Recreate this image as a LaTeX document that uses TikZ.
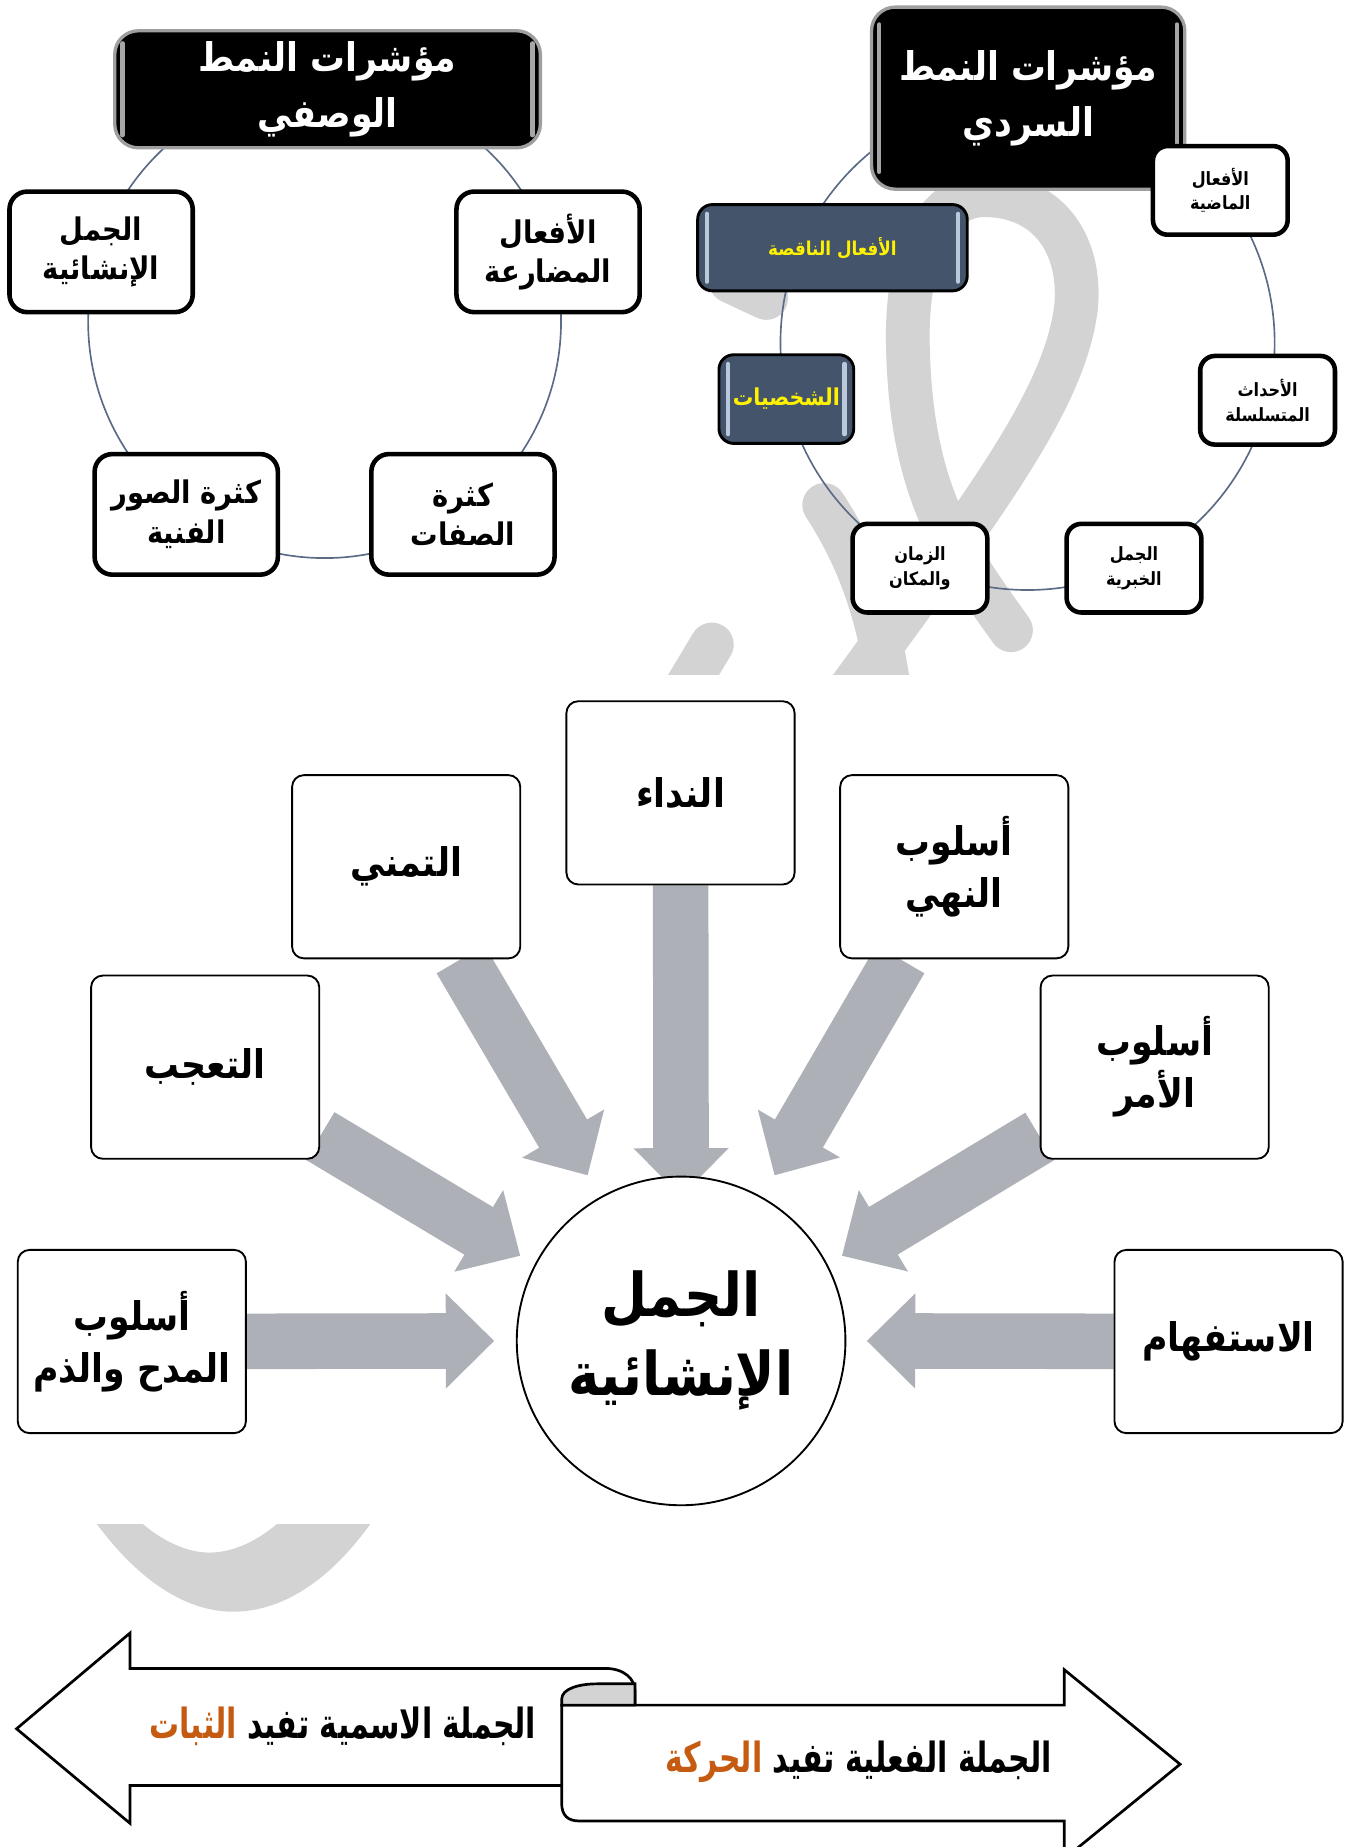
\documentclass[tikz,border=0pt]{standalone}
\usepackage{fontspec}
\usetikzlibrary{arrows.meta,backgrounds}
\TeXXeTstate=1
\newfontfamily\arabicfont[Script=Arabic,FakeStretch=0.88]{DejaVu Sans}
\newfontfamily\arabicnarrow[Script=Arabic,FakeStretch=0.72]{DejaVu Sans}
\newcommand{\arl}[1]{\beginR #1\endR}
\definecolor{ring}{HTML}{5A6B86}
\definecolor{arrowgray}{HTML}{ADB0B6}
\definecolor{wmgray}{HTML}{D3D3D3}
\definecolor{slate}{HTML}{44546A}
\definecolor{glint}{HTML}{B9C8DB}
\definecolor{rust}{HTML}{C55A11}

\begin{document}
\begin{tikzpicture}[x=0.02cm,y=-0.02cm,
  title/.style={draw=gray!75,line width=1.6pt,fill=black,rounded corners=0.4cm,text=white,align=center,
    font=\arabicfont\bfseries\fontsize{19}{27}\selectfont},
  ringbox/.style={draw,line width=2.2pt,fill=white,rounded corners=0.3cm,align=center,
    minimum width=3.1cm,minimum height=2.04cm,font=\arabicfont\bfseries\fontsize{15}{19}\selectfont},
  smallbox/.style={ringbox,minimum width=2.28cm,minimum height=1.5cm,rounded corners=0.25cm,
    font=\arabicfont\bfseries\fontsize{8.8}{12}\selectfont},
  bluebox/.style={draw,line width=1.4pt,fill=slate,text=yellow,rounded corners=0.25cm,align=center,
    font=\arabicfont\bfseries\fontsize{9.2}{12}\selectfont},
  stylebox/.style={draw,line width=0.9pt,fill=white,rounded corners=0.2cm,align=center,
    minimum width=3.86cm,minimum height=3.1cm,font=\arabicfont\bfseries\fontsize{19}{25}\selectfont},
  fat/.style={draw=arrowgray,line width=0.94cm,-{Triangle[length=0.82cm,width=1.56cm]}},
  gloss/.style={line width=2pt,line cap=round},
  banner/.style={line width=1.3pt,line join=miter},
  bannertext/.style={font=\arabicnarrow\bfseries\fontsize{20}{24}\selectfont}]
\useasboundingbox (0,0) rectangle (1141,1562);

% watermark
\begin{scope}[wmgray,line width=0.74cm,line cap=round]
\clip (0,0) rectangle (1141,570);
\draw (855,533) .. controls (810,470) and (772,420) .. (768,300) .. controls (764,200) and (800,165) .. (832,165)
  .. controls (885,165) and (915,205) .. (910,260) .. controls (900,340) and (830,430) .. (706,600);
\draw (697,427) .. controls (725,470) and (745,520) .. (754,600);
\draw (602,545) -- (575,590);
\draw (618,238) -- (648,252);
\end{scope}
\begin{scope}
\clip (0,1289) rectangle (1141,1400);
\fill[wmgray] (82,1289) .. controls (120,1340) and (160,1363) .. (197,1363) .. controls (240,1363) and (280,1335) .. (313,1289)
  -- (234,1289) .. controls (215,1305) and (195,1313) .. (177,1313) .. controls (160,1313) and (140,1305) .. (121,1289) -- cycle;
\end{scope}

% narrative ring
\coordinate (cR) at (869,290);
\draw[ring,line width=0.8pt] (cR) circle (4.18cm);
\node[title,minimum width=5.3cm,minimum height=3.08cm] (sardi) at (869.5,83) {\arl{مؤشرات النمط}\\\arl{السردي}};
\draw[gloss,gray!70] ([shift={(8,16)}]sardi.north west) -- ([shift={(8,-16)}]sardi.south west);
\draw[gloss,gray!70] ([shift={(-8,16)}]sardi.north east) -- ([shift={(-8,-16)}]sardi.south east);
\node[smallbox] (madiya) at (1032,161) {\arl{الأفعال}\\\arl{الماضية}};
\node[smallbox] (ahdath) at (1072,338.5) {\arl{الأحداث}\\\arl{المتسلسلة}};
\node[smallbox] (khabar) at (959,480.5) {\arl{الجمل}\\\arl{الخبرية}};
\node[smallbox] (zaman) at (778,480.5) {\arl{الزمان}\\\arl{والمكان}};
\node[bluebox,minimum width=2.28cm,minimum height=1.5cm,font=\arabicfont\bfseries\fontsize{11.2}{14}\selectfont] (shakhs) at (665,337.5) {\arl{الشخصيات}};
\node[bluebox,minimum width=4.56cm,minimum height=1.46cm] (naqisa) at (704,209.5) {\arl{الأفعال الناقصة}};
\foreach \n in {naqisa,shakhs}{
  \draw[gloss,glint] ([shift={(9,9)}]\n.north west) -- ([shift={(9,-9)}]\n.south west);
  \draw[gloss,glint] ([shift={(-9,9)}]\n.north east) -- ([shift={(-9,-9)}]\n.south east);
}

% descriptive ring
\coordinate (cL) at (274.5,272);
\draw[ring,line width=0.8pt] (cL) circle (4cm);
\node[title,minimum width=7.2cm,minimum height=1.98cm] (wasfi) at (277,75.5) {\arl{مؤشرات النمط}\\\arl{الوصفي}};
\draw[gloss,gray!70] ([shift={(8,12)}]wasfi.north west) -- ([shift={(8,-12)}]wasfi.south west);
\draw[gloss,gray!70] ([shift={(-8,12)}]wasfi.north east) -- ([shift={(-8,-12)}]wasfi.south east);
\node[ringbox] (insha) at (85.5,213) {\arl{الجمل}\\\arl{الإنشائية}};
\node[ringbox] (mudari) at (463.5,213) {\arl{الأفعال}\\\arl{المضارعة}};
\node[ringbox] (suwar) at (157.5,435) {\arl{كثرة الصور}\\\arl{الفنية}};
\node[ringbox] (sifat) at (391.5,435) {\arl{كثرة}\\\arl{الصفات}};

% insha'i sentences
\node[draw,line width=0.9pt,fill=white,circle,minimum size=5.56cm,
  font=\arabicfont\bfseries\fontsize{29}{38}\selectfont,align=center] (hub) at (576,1134) {\arl{الجمل}\\\arl{الإنشائية}};
\node[stylebox] (nida) at (575.5,670.5) {\arl{النداء}};
\node[stylebox] (tamanni) at (343.5,733) {\arl{التمني}};
\node[stylebox] (nahy) at (807,733) {\arl{أسلوب}\\\arl{النهي}};
\node[stylebox] (taajjub) at (173.5,902.5) {\arl{التعجب}};
\node[stylebox] (amr) at (976.5,902.5) {\arl{أسلوب}\\\arl{الأمر}};
\node[stylebox] (madh) at (111.5,1134.5) {\arl{أسلوب}\\\arl{المدح والذم}};
\node[stylebox] (istifham) at (1039,1134.5) {\arl{الاستفهام}};

\coordinate (tNida) at (576,1012);
\coordinate (tTamanni) at (497,994);
\coordinate (tNahy) at (655,994);
\coordinate (tTaajjub) at (440,1062);
\coordinate (tAmr) at (712,1062);
\coordinate (tMadh) at (418,1134);
\coordinate (tIstifham) at (733,1134);

\begin{scope}[on background layer]
\draw[fat] (nida) -- (tNida);
\draw[fat] (tamanni) -- (tTamanni);
\draw[fat] (nahy) -- (tNahy);
\draw[fat] (taajjub) -- (tTaajjub);
\draw[fat] (amr) -- (tAmr);
\draw[fat] (madh) -- (tMadh);
\draw[fat] (istifham) -- (tIstifham);
\end{scope}

% nominal / verbal banners
\fill[white] (512,1411) -- (110,1411) -- (110,1381) -- (14,1462) -- (110,1542) -- (110,1510) -- (475,1510) -- (475,1442) -- (537,1442) -- (537,1432) -- cycle;
\draw[banner] (475,1510) -- (110,1510) -- (110,1542) -- (14,1462) -- (110,1381) -- (110,1411) -- (512,1411)
  .. controls (528,1411) and (537,1420) .. (537,1430) -- (537,1442);
\node[bannertext] (ismiya) at (290,1460) {\textcolor{rust}{\arl{الثبات}} \arl{الجملة الاسمية تفيد}};

\filldraw[banner,fill=white] (475,1442) -- (900,1442) -- (900,1412) -- (998,1492) -- (900,1572) -- (900,1540) -- (490,1540)
  .. controls (480,1540) and (475,1535) .. (475,1525) -- cycle;
\filldraw[banner,fill=wmgray] (475,1442) -- (475,1437) .. controls (475,1428) and (490,1424) .. (505,1424) -- (537,1424) -- (537,1442) -- cycle;
\node[bannertext] (fiiliya) at (726,1490) {\textcolor{rust}{\arl{الحركة}} \arl{الجملة الفعلية تفيد}};
\end{tikzpicture}
\end{document}
